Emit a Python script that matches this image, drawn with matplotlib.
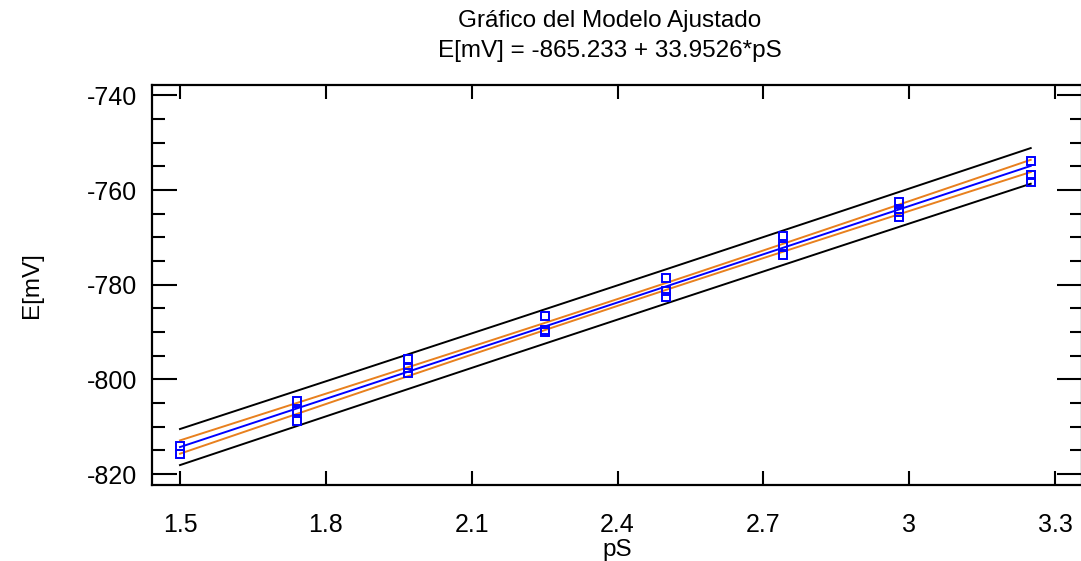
import numpy as np
import matplotlib
matplotlib.use("Agg")
import matplotlib.pyplot as plt
from matplotlib.ticker import MultipleLocator

plt.rcParams['font.family'] = ['Liberation Sans', 'DejaVu Sans']
plt.rcParams['axes.unicode_minus'] = False

# Observations: pS and measured potential E[mV]
ps_obs = [1.50, 1.50,
          1.74, 1.74, 1.74,
          1.97, 1.97, 1.97,
          2.25, 2.25, 2.25,
          2.50, 2.50, 2.50,
          2.74, 2.74, 2.74,
          2.98, 2.98, 2.98, 2.98,
          3.25, 3.25, 3.25]
e_obs = [-814.0, -815.8,
         -804.5, -806.6, -808.7,
         -795.7, -797.5, -798.6,
         -786.6, -789.5, -790.0,
         -778.6, -781.3, -782.5,
         -769.8, -771.9, -773.7,
         -762.5, -763.9, -764.6, -765.6,
         -753.9, -756.9, -758.2]

# Fitted model stated in the title
intercept = -865.233
slope = 33.9526
t_975 = 2.074  # Student t, 95 %, 22 degrees of freedom

x_ticks = [1.5, 1.8, 2.1, 2.4, 2.7, 3.0, 3.3]
x_ticklabels = ["1.5", "1.8", "2.1", "2.4", "2.7", "3", "3.3"]
y_ticks = [-820, -800, -780, -760, -740]

x = np.array(ps_obs)
y = np.array(e_obs)
n = len(x)
resid = y - (intercept + slope * x)
s = np.sqrt(np.sum(resid ** 2) / (n - 2))
xbar = x.mean()
sxx = np.sum((x - xbar) ** 2)

grid = np.linspace(x.min(), x.max(), 300)
fit = intercept + slope * grid
lev = 1.0 / n + (grid - xbar) ** 2 / sxx
conf = t_975 * s * np.sqrt(lev)
pred = t_975 * s * np.sqrt(1.0 + lev)

fig = plt.figure(figsize=(10.81, 5.61), dpi=100)
ax = fig.add_axes([152 / 1081, (561 - 484.7) / 561, (1082 - 152) / 1081, (484.7 - 84.5) / 561])

ax.plot(grid, fit + pred, color="black", lw=1.4)
ax.plot(grid, fit - pred, color="black", lw=1.4)
ax.plot(grid, fit + conf, color="#E8801E", lw=1.4)
ax.plot(grid, fit - conf, color="#E8801E", lw=1.4)
ax.plot(grid, fit, color="#0000FF", lw=1.4)
ax.plot(x, y, ls="none", marker="s", ms=5.5, mfc="none", mec="#0000FF", mew=1.4)

ax.set_xlim(1.4424, 3.3555)
ax.set_ylim(-822.26, -737.68)

ax.set_xticks(x_ticks)
ax.set_xticklabels(x_ticklabels)
ax.set_yticks(y_ticks)
ax.yaxis.set_minor_locator(MultipleLocator(5))

ax.tick_params(axis="both", which="both", direction="in", labelsize=18,
               top=True, right=True, width=1.5)
ax.tick_params(axis="y", which="major", length=18, pad=10.5)
ax.tick_params(axis="y", which="minor", length=9)
ax.tick_params(axis="x", which="major", length=10, pad=20.5)
for sp in ax.spines.values():
    sp.set_linewidth(1.6)

ax.set_xlabel("pS", fontsize=17.5, labelpad=1.5)
ax.set_ylabel("E[mV]", fontsize=17.5, labelpad=32)

fig.text(610 / 1081, 1 - 21 / 561, "Gráfico del Modelo Ajustado",
         ha="center", va="center", fontsize=17.5)
fig.text(610 / 1081, 1 - 51 / 561, "E[mV] = -865.233 + 33.9526*pS",
         ha="center", va="center", fontsize=17.5)

fig.savefig("out.png", dpi=100)
